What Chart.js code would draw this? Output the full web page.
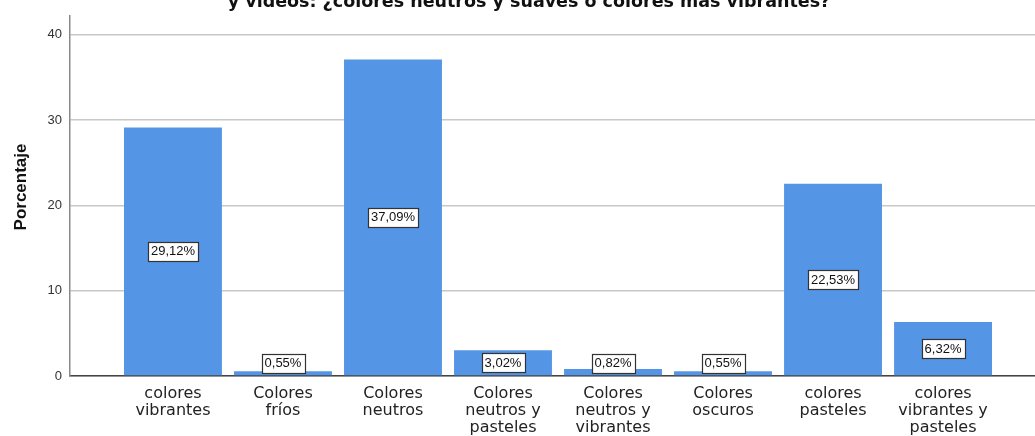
<!DOCTYPE html>
<html>
<head>
<meta charset="utf-8">
<script src="https://cdn.jsdelivr.net/npm/chart.js@4"></script>
<style>
  html, body { margin: 0; padding: 0; background: #fff; }
  #wrap { width: 1035px; height: 436px; }
</style>
</head>
<body>
<div id="wrap"><canvas id="c" width="1035" height="436"></canvas></div>
<script>
const titleText = "y videos: ¿colores neutros y suaves o colores más vibrantes?";
const yAxisTitle = "Porcentaje";
const categories = [
  ["colores", "vibrantes"],
  ["Colores", "fríos"],
  ["Colores", "neutros"],
  ["Colores", "neutros y", "pasteles"],
  ["Colores", "neutros y", "vibrantes"],
  ["Colores", "oscuros"],
  ["colores", "pasteles"],
  ["colores", "vibrantes y", "pasteles"]
];
const percentages = [29.12, 0.55, 37.09, 3.02, 0.82, 0.55, 22.53, 6.32];
const valueLabels = ["29,12%", "0,55%", "37,09%", "3,02%", "0,82%", "0,55%", "22,53%", "6,32%"];
const yTicks = [0, 10, 20, 30, 40];

const barLabelPlugin = {
  id: 'barLabels',
  afterDatasetsDraw(chart) {
    const ctx = chart.ctx;
    const meta = chart.getDatasetMeta(0);
    ctx.save();
    ctx.font = '13px "Liberation Sans", Arial, sans-serif';
    ctx.textAlign = 'center';
    ctx.textBaseline = 'middle';
    meta.data.forEach((bar, i) => {
      const txt = valueLabels[i];
      const w = ctx.measureText(txt).width + 6;
      const h = 19;
      let cy = (bar.y + bar.base) / 2;
      cy = Math.min(cy, bar.base - 12);
      const x0 = Math.round(bar.x - w / 2) + 0.5;
      const y0 = Math.round(cy - h / 2) + 0.5;
      ctx.fillStyle = '#ffffff';
      ctx.fillRect(x0, y0, Math.round(w), h);
      ctx.strokeStyle = '#333333';
      ctx.lineWidth = 1.2;
      ctx.strokeRect(x0, y0, Math.round(w), h);
      ctx.fillStyle = '#111111';
      ctx.fillText(txt, bar.x, cy + 0.5);
    });
    ctx.restore();
  }
};

const textPlugin = {
  id: 'extraText',
  afterDraw(chart) {
    const ctx = chart.ctx;
    ctx.save();
    ctx.fillStyle = '#111111';
    ctx.font = 'bold 17.5px "DejaVu Sans", sans-serif';
    ctx.textAlign = 'center';
    ctx.textBaseline = 'alphabetic';
    ctx.fillText(titleText, 529, 7);
    ctx.translate(21, 187);
    ctx.rotate(-Math.PI / 2);
    ctx.font = 'bold 17px "Liberation Sans", Arial, sans-serif';
    ctx.textBaseline = 'middle';
    ctx.fillText(yAxisTitle, 0, 0);
    ctx.restore();
  }
};

new Chart(document.getElementById('c'), {
  type: 'bar',
  data: {
    datasets: [{
      data: percentages.map((v, i) => ({ x: i, y: v })),
      backgroundColor: '#5495e6',
      borderWidth: 0,
      barPercentage: 0.89,
      categoryPercentage: 1.0
    }]
  },
  options: {
    responsive: false,
    animation: false,
    layout: { padding: { top: 15, left: 0, right: 0, bottom: 0 } },
    plugins: { legend: { display: false }, tooltip: { enabled: false }, title: { display: false } },
    scales: {
      x: {
        type: 'linear',
        offset: false,
        min: -0.936,
        max: 7.836,
        afterBuildTicks(scale) { scale.ticks = categories.map((_, i) => ({ value: i })); },
        afterFit(scale) { scale.height = 60; },
        grid: { display: false, drawTicks: false, offset: false },
        border: { display: true, color: '#444444', width: 1.5 },
        ticks: {
          autoSkip: false,
          maxRotation: 0,
          minRotation: 0,
          padding: 9,
          color: '#222222',
          font: { family: '"DejaVu Sans", sans-serif', size: 16, lineHeight: '17px' },
          callback: (v) => categories[v]
        }
      },
      y: {
        min: 0,
        max: 42.2,
        afterBuildTicks(scale) { scale.ticks = yTicks.map(v => ({ value: v })); },
        afterFit(scale) { scale.width = 70; },
        grid: { color: '#c8c8c8', lineWidth: 1.5, drawTicks: false },
        border: { display: true, color: '#8a8a8a', width: 1.5 },
        ticks: {
          padding: 8,
          color: '#333333',
          font: { family: '"Liberation Sans", Arial, sans-serif', size: 13 },
          callback: (v) => String(v)
        }
      }
    }
  },
  plugins: [barLabelPlugin, textPlugin]
});
</script>
</body>
</html>
